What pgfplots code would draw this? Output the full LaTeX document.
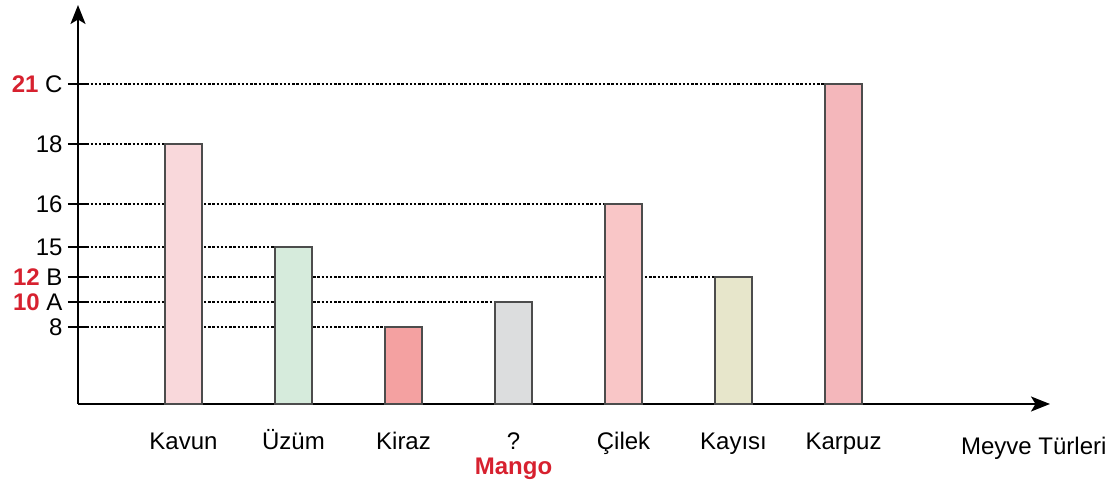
\documentclass[border=0pt]{standalone}
\usepackage{pgfplots}
\pgfplotsset{compat=1.18}
\usepackage{fontspec}
\setmainfont{Liberation Sans}
\usetikzlibrary{arrows.meta}
\definecolor{cKavun}{HTML}{F9D8DB}
\definecolor{cUzum}{HTML}{D6EBDC}
\definecolor{cKiraz}{HTML}{F4A1A1}
\definecolor{cMango}{HTML}{DCDDDE}
\definecolor{cCilek}{HTML}{F9C6C7}
\definecolor{cKayisi}{HTML}{E7E6CB}
\definecolor{cKarpuz}{HTML}{F4B7BB}
\definecolor{myred}{HTML}{D7212F}
\newcommand{\fs}{\fontsize{24}{25}\selectfont}
\newcommand{\U}{\vphantom{Ü}}
\begin{document}
\begin{tikzpicture}[font=\fs]
\useasboundingbox (0,0) rectangle (1119pt,481pt);
\begin{axis}[
  at={(78pt,77pt)}, anchor=south west,
  scale only axis, width=972pt, height=399pt,
  xmin=-0.959, xmax=7.877, ymin=0, ymax=24.95,
  % the picture's value axis is not linear: map values to the drawn heights
  y coord trafo/.code={\pgfmathparse{ifthenelse(#1<=8, 9.625*#1,
     ifthenelse(#1<=10, 77+12.5*(#1-8),
     ifthenelse(#1<=12, 102+12.5*(#1-10),
     ifthenelse(#1<=15, 127+10*(#1-12),
     ifthenelse(#1<=16, 157+43*(#1-15),
     ifthenelse(#1<=18, 200+30*(#1-16),
     ifthenelse(#1<=21, 260+20*(#1-18), 320+20*(#1-21))))))))}},
  axis lines=left,
  axis line style={line width=2pt, -{Stealth[length=19pt,width=15pt,inset=4.5pt]}},
  xtick={0,1,2,3,4,5,6},
  xticklabels={\U Kavun,\U Üzüm,\U Kiraz,{\U ?\\\textcolor{myred}{\textbf{Mango}}},\U Çilek,\U Kayısı,\U Karpuz},
  xtick style={draw=none},
  xticklabel style={align=center, anchor=north, yshift=-12pt, font=\fs},
  ytick={8,10,12,15,16,18,21},
  yticklabels={8,{\textcolor{myred}{\textbf{10}}\ A},{\textcolor{myred}{\textbf{12}}\ B},15,16,18,{\textcolor{myred}{\textbf{21}}\ C}},
  yticklabel style={anchor=east, xshift=-2pt, font=\fs},
  tick align=center, major tick length=20pt,
  ytick style={line width=2pt, black},
  clip=false,
]
% dotted guide lines (drawn behind the bars)
\pgfplotsset{guide/.style={line width=2.7pt, black, dash pattern=on 2.4pt off 1.8pt, forget plot}}
\addplot[guide] coordinates {(-0.959,21) (5.832,21)};
\addplot[guide] coordinates {(-0.959,18) (-0.168,18)};
\addplot[guide] coordinates {(-0.959,16) (3.832,16)};
\addplot[guide] coordinates {(-0.959,15) (0.832,15)};
\addplot[guide] coordinates {(-0.959,12) (4.832,12)};
\addplot[guide] coordinates {(-0.959,10) (2.832,10)};
\addplot[guide] coordinates {(-0.959,8) (1.832,8)};
% bars
\pgfplotsset{bb/.style={ybar, bar width=37pt, bar shift=0pt, draw=black!70, line width=1.2pt}}
\addplot[bb, fill=cKavun] coordinates {(0,18)};
\addplot[bb, fill=cUzum] coordinates {(1,15)};
\addplot[bb, fill=cKiraz] coordinates {(2,8)};
\addplot[bb, fill=cMango] coordinates {(3,10)};
\addplot[bb, fill=cCilek] coordinates {(4,16)};
\addplot[bb, fill=cKayisi] coordinates {(5,12)};
\addplot[bb, fill=cKarpuz] coordinates {(6,21)};
\end{axis}
\node[anchor=base east, font=\fs] at (1110pt,26pt) {Meyve Türleri};
\end{tikzpicture}
\end{document}
